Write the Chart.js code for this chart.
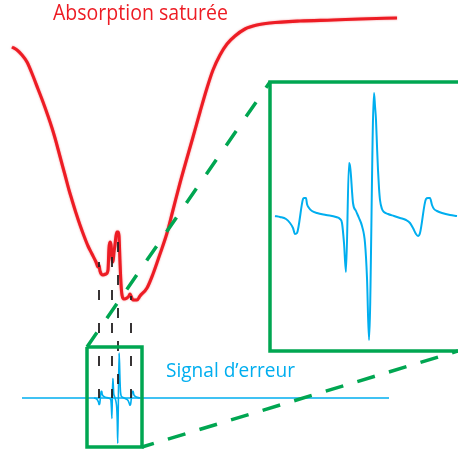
<!DOCTYPE html>
<html>
<head>
<meta charset="utf-8">
<title>Absorption saturée</title>
<script src="https://cdn.jsdelivr.net/npm/chart.js@4/dist/chart.umd.min.js"></script>
<style>
    html, body { margin: 0; padding: 0; background: #fff; }
    canvas { display: block; }
</style>
</head>
<body>
<canvas id="diagram" width="458" height="452"></canvas>
<script>
'use strict';

// saturated absorption trace (sheet frame: x right, y down)
var absX = [12, 17, 22, 27, 33, 38, 43, 48, 52, 55, 58, 62, 65, 69, 72, 76, 80, 84, 88, 92,
    96, 98, 99, 100, 103, 106, 108, 109, 110, 111, 112, 113, 114, 115, 116, 117, 118, 119, 120, 121,
    122, 124, 127, 129, 130, 131, 133, 137, 140, 147, 153, 160, 167, 173, 180, 187, 193, 200, 207, 213,
    220, 227, 235, 245, 257, 270, 300, 333, 360, 397];
var absY = [47, 50, 55, 62, 76, 89, 102, 116, 128, 138, 149, 164, 175, 190, 200, 213, 225, 236, 246, 254,
    262, 267, 265, 271, 275, 274, 270, 248, 242, 245, 258, 262, 252, 245, 236, 232, 232, 236, 262, 284,
    295, 299, 298, 296, 294, 296, 300, 300, 296, 288, 274, 254, 233, 210, 183, 158, 137, 112, 88, 70,
    55, 44, 36, 29, 25, 23, 21, 20, 19, 18];

// error signal, detuning vs amplitude (baseline = 0)
var errX = [-91, -86, -80, -76, -73, -71, -69, -63, -62, -60, -59, -57, -54, -49, -40, -30, -26,
    -24, -22, -20, -17, -16, -15, -14, -13, -10, -7, -4, -1, 1, 3, 8, 9, 10, 11, 12, 13, 14, 16, 18,
    22, 28, 34, 40, 44, 47, 50, 52, 54, 60, 62, 64, 66, 68, 71, 76, 84, 91];
var errY = [0, -1, -3, -7, -12, -18, -17, 17, 18, 18, 12, 8, 5, 3, 1, -1, -3,
    -7, -27, -56, 53, 50, 40, 25, 13, 5, -2, -10, -27, -62, -124, 123, 110, 96, 70, 46, 28, 16, 7, 4,
    2, 0, -2, -4, -7, -12, -18, -20, -17, 17, 18, 18, 11, 7, 5, 3, 1, 0];

// error signal baseline
var baseX = [22, 389];
var baseY = [398, 398];

// hyperfine markers: x position and top of each dashed drop line
var markerX = [99, 112, 118, 131];
var markerTop = [262, 250, 240, 296];
var markerBottom = 398;
var markerPhase = [257, 257, 242, 257];

// zoom frames
var smallBoxX = [87, 142, 142, 87, 87];
var smallBoxY = [347, 347, 447, 447, 347];
var bigBoxX = [478, 270, 270, 478];
var bigBoxY = [82, 82, 351, 351];
var linkUpX = [87, 270];
var linkUpY = [347, 82];
var linkDownX = [458, 142];
var linkDownY = [351, 447];

var labels = ['Absorption saturée', 'Signal d’erreur'];

var RED = '#ed1c24';
var BLUE = '#00aeef';
var GREEN = '#00a651';
var INK = '#231f20';

function pts(xs, ys) {
    return xs.map(function (x, i) { return {x: x, y: ys[i]}; });
}

// value range so that v0..v1 lands on pixels p0..p1 of a canvas side
function fitX(v0, v1, p0, p1, size) {
    var upp = (v1 - v0) / (p1 - p0);
    var min = v0 - p0 * upp;
    return {type: 'linear', display: false, min: min, max: min + size * upp};
}
function fitY(v0, p0, v1, p1, size) {
    var upp = (v1 - v0) / (p0 - p1);
    var max = v0 + p0 * upp;
    return {type: 'linear', display: false, min: max - size * upp, max: max};
}

function line(data, color, width, extra) {
    var ds = {
        data: data,
        showLine: true,
        borderColor: color,
        borderWidth: width,
        pointRadius: 0,
        pointHoverRadius: 0,
        fill: false,
        tension: 0,
        borderJoinStyle: 'miter'
    };
    return Object.assign(ds, extra || {});
}

var W = 458, H = 452;
var DASH = 33;

var datasets = [];
// listed top-most first
datasets.push(line(pts(linkUpX, linkUpY), GREEN, 3.5, {borderDash: [17.5, 17.5]}));
datasets.push(line(pts(linkDownX, linkDownY), GREEN, 3.5, {borderDash: [18.3, 14.7], borderDashOffset: 12.1}));
datasets.push(line(pts(smallBoxX, smallBoxY), GREEN, 3.5));
datasets.push(line(pts(bigBoxX, bigBoxY), GREEN, 3.5));
markerX.forEach(function (mx, i) {
    datasets.push(line(pts([mx, mx], [markerTop[i], markerBottom]), INK, 1.8, {
        borderDash: [10, DASH - 10],
        borderDashOffset: ((markerTop[i] - markerPhase[i]) % DASH + DASH) % DASH
    }));
});
datasets.push(line(pts(errX, errY), BLUE, 2, {
    xAxisID: 'xZoom', yAxisID: 'yZoom', cubicInterpolationMode: 'monotone'
}));
datasets.push(line(pts(errX, errY), BLUE, 1.6, {
    xAxisID: 'xMini', yAxisID: 'yMini', cubicInterpolationMode: 'monotone'
}));
datasets.push(line(pts(baseX, baseY), BLUE, 1.6));
datasets.push(line(pts(absX, absY), RED, 3.1, {cubicInterpolationMode: 'monotone', soft: true}));
datasets.forEach(function (ds, i) { ds.order = i; });

var softLine = {
    id: 'softLine',
    beforeDatasetDraw: function (chart, args) {
        if (!chart.data.datasets[args.index].soft) return;
        chart.ctx.save();
        chart.ctx.shadowColor = 'rgba(237,28,36,0.5)';
        chart.ctx.shadowBlur = 2;
    },
    afterDatasetDraw: function (chart, args) {
        if (!chart.data.datasets[args.index].soft) return;
        chart.ctx.restore();
    }
};

var textLabels = {
    id: 'textLabels',
    afterDatasetsDraw: function (chart, args, opts) {
        var ctx = chart.ctx;
        var sx = chart.scales.x, sy = chart.scales.y;
        ctx.save();
        ctx.textBaseline = 'alphabetic';
        ctx.textAlign = 'left';
        opts.items.forEach(function (it) {
            ctx.fillStyle = it.color;
            ctx.font = it.size + 'px "Open Sans", "DejaVu Sans", sans-serif';
            ctx.fillText(it.text, sx.getPixelForValue(it.x), sy.getPixelForValue(it.y), it.width);
        });
        ctx.restore();
    }
};

new Chart(document.getElementById('diagram'), {
    type: 'scatter',
    data: {datasets: datasets},
    options: {
        responsive: false,
        animation: false,
        devicePixelRatio: 1,
        events: [],
        layout: {padding: 0},
        scales: {
            x: {type: 'linear', display: false, min: 0, max: W},
            y: {type: 'linear', display: false, min: 0, max: H, reverse: true},
            xZoom: fitX(-91, 91, 275, 457, W),
            yZoom: fitY(0, 216, 123, 93, H),
            xMini: fitX(-91, 91, 94, 140, W),
            yMini: fitY(0, 398, 123, 353, H)
        },
        plugins: {
            legend: {display: false},
            tooltip: {enabled: false},
            textLabels: {
                items: [
                    {text: labels[0], x: 53, y: 20, size: 21, width: 175, color: RED},
                    {text: labels[1], x: 166, y: 377, size: 19.5, width: 129, color: BLUE}
                ]
            }
        }
    },
    plugins: [softLine, textLabels]
});
</script>
</body>
</html>
